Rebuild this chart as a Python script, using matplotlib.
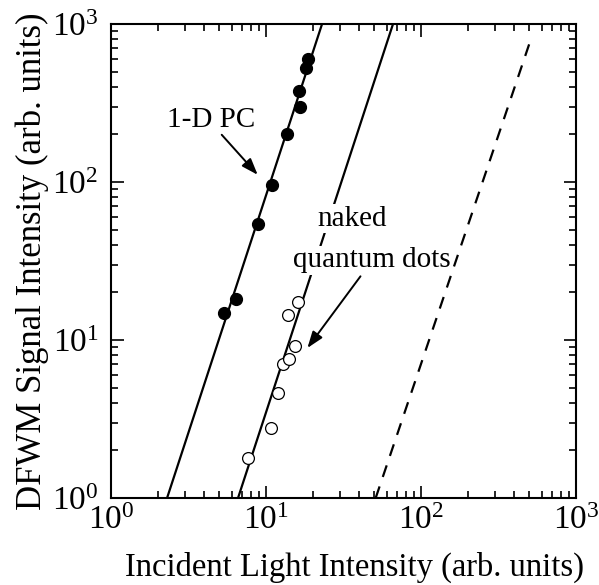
import numpy as np
import matplotlib
matplotlib.use("Agg")
import matplotlib.pyplot as plt
from matplotlib.ticker import LogLocator, LogFormatterMathtext, NullFormatter

plt.rcParams["font.family"] = ["Liberation Serif", "DejaVu Serif"]
plt.rcParams["mathtext.fontset"] = "stix"

# measured points: 1-D photonic crystal (filled) and bare dots (open)
pc_intensity = [5.37, 6.45, 8.88, 11.0, 13.7, 16.5, 16.4, 18.2, 18.6]
pc_signal = [14.8, 18.3, 54, 96, 202, 298, 376, 523, 600]

qd_intensity = [7.7, 10.7, 11.9, 12.8, 14.1, 15.4, 13.9, 16.2]
qd_signal = [1.80, 2.76, 4.59, 7.0, 7.6, 9.1, 14.5, 17.4]

# power-law guides: signal = (I / I0) ** n
pc_fit_range = [2.3, 23.0]
pc_fit_I0, pc_fit_n = 2.3, 3.0
qd_fit_range = [6.6, 66.0]
qd_fit_I0, qd_fit_n = 6.6, 3.0
ref_fit_range = [51.0, 515.0]
ref_fit_I0, ref_fit_n = 51.0, 2.9


def power_law(x_range, i0, n):
    x = np.logspace(np.log10(x_range[0]), np.log10(x_range[1]), 100)
    return x, (x / i0) ** n


fig = plt.figure(figsize=(5.99, 5.85), dpi=100)
ax = fig.add_axes([0.1853, 0.1487, 0.7763, 0.8103])

x, y = power_law(pc_fit_range, pc_fit_I0, pc_fit_n)
ax.plot(x, y, color="black", linewidth=1.6, zorder=2)
x, y = power_law(qd_fit_range, qd_fit_I0, qd_fit_n)
ax.plot(x, y, color="black", linewidth=1.6, zorder=2)
x, y = power_law(ref_fit_range, ref_fit_I0, ref_fit_n)
ax.plot(x, y, color="black", linewidth=1.6, linestyle=(0, (5.5, 4.5)), zorder=2)

ax.plot(pc_intensity, pc_signal, "o", color="black", markersize=8.5, zorder=4)
ax.plot(qd_intensity, qd_signal, "o", markerfacecolor="white",
        markeredgecolor="black", markeredgewidth=0.9, markersize=8.5, zorder=4)

ax.set_xscale("log")
ax.set_yscale("log")
ax.set_xlim(1, 1000)
ax.set_ylim(1, 1000)

for axis in (ax.xaxis, ax.yaxis):
    axis.set_major_locator(LogLocator(base=10))
    axis.set_minor_locator(LogLocator(base=10, subs=np.arange(2, 10)))
    axis.set_major_formatter(LogFormatterMathtext())
    axis.set_minor_formatter(NullFormatter())

ax.tick_params(which="both", direction="in", top=True, right=True, width=1.2)
ax.tick_params(which="major", length=9, labelsize=24)
ax.tick_params(which="minor", length=5)
ax.tick_params(axis="x", which="major", pad=5)
ax.tick_params(axis="y", which="major", pad=9)
for s in ax.spines.values():
    s.set_linewidth(1.5)

ax.set_xlabel("Incident Light Intensity (arb. units)", fontsize=23.5, labelpad=12)
ax.xaxis.label.set_x(0.523)
ax.set_ylabel("DFWM Signal Intensity (arb. units)", fontsize=25, labelpad=2)

# labels with arrows
arrow = dict(arrowstyle="-|>,head_length=0.5,head_width=0.18", color="black",
             lw=1.4, mutation_scale=20, shrinkA=0, shrinkB=0)
ax.text(4.4, 248, "1-D PC", fontsize=21, ha="center", va="center")
ax.annotate("", xy=(8.84, 111), xytext=(5.18, 199), arrowprops=arrow)

ax.text(36.2, 58.7, "naked", fontsize=21, ha="center", va="center",
        bbox=dict(facecolor="white", edgecolor="none", pad=1), zorder=3)
ax.text(48, 31.9, "quantum dots", fontsize=21, ha="center", va="center",
        bbox=dict(facecolor="white", edgecolor="none", pad=1), zorder=3)
ax.annotate("", xy=(18.5, 8.9), xytext=(40.7, 25.3), arrowprops=arrow)

plt.savefig("out.png", dpi=100)
